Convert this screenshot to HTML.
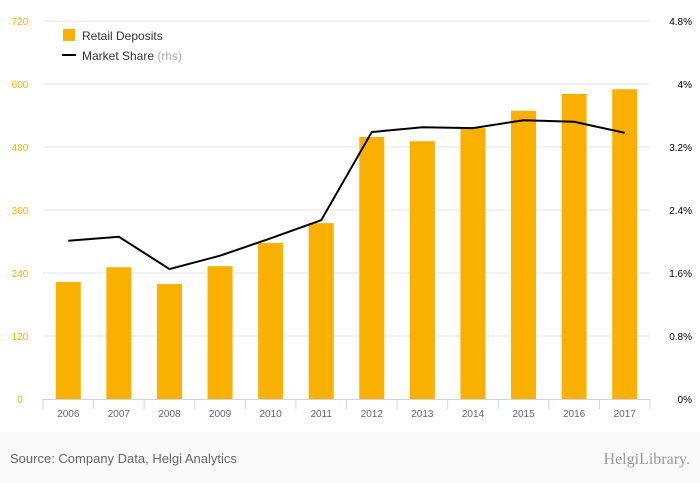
<!DOCTYPE html>
<html><head><meta charset="utf-8"><style>
body{margin:0;width:700px;height:483px;background:#fff;font-family:"Liberation Sans",sans-serif;overflow:hidden}
#footer{position:absolute;left:0;top:432px;width:700px;height:51px;background:#fafafa}
</style></head><body>
<svg id="chart" width="700" height="483" style="position:absolute;left:0;top:0">
<rect x="0" y="432" width="700" height="51" fill="#fafafa"/>
<g id="grid"></g><g id="bars"></g><g id="line"></g><g id="axes"></g>
<g>
<rect x="63" y="29" width="12" height="12" fill="#f9b000"/>
<text x="82" y="40" font-size="12" fill="#333">Retail Deposits</text>
<line x1="62" y1="55" x2="76" y2="55" stroke="#000" stroke-width="2"/>
<text x="82" y="60" font-size="12" fill="#333">Market Share <tspan fill="#aaa">(rhs)</tspan></text>
</g>
<text x="10" y="463" font-size="13" fill="#666">Source: Company Data, Helgi Analytics</text>
<text x="690" y="464" font-size="16" fill="#999" text-anchor="end" font-family="Liberation Serif,serif">HelgiLibrary.</text>
</svg>
<script>
const categories=["2006","2007","2008","2009","2010","2011","2012","2013","2014","2015","2016","2017"];
const deposits=[223,251,219,253,297,335,499,491,516,549,581,590];
const share=[2.01,2.06,1.65,1.82,2.04,2.27,3.39,3.45,3.44,3.54,3.52,3.38];
const leftTicks=[0,120,240,360,480,600,720];
const rightTicks=[0,0.8,1.6,2.4,3.2,4,4.8];
const rightLabels=["0%","0.8%","1.6%","2.4%","3.2%","4%","4.8%"];
const NS="http://www.w3.org/2000/svg";
const x0=43,x1=650,yTop=21,yBot=399;
const band=(x1-x0)/categories.length;
const xC=i=>x0+band*(i+0.5);
const yL=v=>yBot-(v/720)*(yBot-yTop);
const yR=v=>yBot-(v/4.8)*(yBot-yTop);
function mk(tag,attrs,parent){const e=document.createElementNS(NS,tag);for(const k in attrs)e.setAttribute(k,attrs[k]);document.getElementById(parent).appendChild(e);return e;}
leftTicks.forEach((t,i)=>{
 if(t>0){const g=mk('line',{x1:x0,x2:x1,y1:yL(t),y2:yL(t),stroke:'#e6e6e6'},'grid');
 
 }
 const l=mk('text',{x:20,y:yL(t)+4,'font-size':10,fill:'#f9b000','text-anchor':'middle'},'axes');l.textContent=t;
 
 
});
rightTicks.forEach((t,i)=>{
 const l=mk('text',{x:692,y:yR(t)+4,'font-size':10,fill:'#000','text-anchor':'end'},'axes');l.textContent=rightLabels[i];
 
 
});
deposits.forEach((v,i)=>{
 const b=mk('rect',{x:xC(i)-12.5,y:yL(v),width:25,height:yBot-yL(v),fill:'#f9b000'},'bars');
 
 
});
const p=mk('polyline',{points:share.map((v,i)=>xC(i)+','+yR(v)).join(' '),fill:'none',stroke:'#000','stroke-width':2},'line');


const ax=mk('line',{x1:x0,x2:x1,y1:yBot+0.5,y2:yBot+0.5,stroke:'#ccd6eb'},'axes');


for(let i=0;i<=categories.length;i++){
 const t=mk('line',{x1:x0+band*i,x2:x0+band*i,y1:yBot,y2:yBot+10,stroke:'#ccd6eb'},'axes');
 
 
}
categories.forEach((c,i)=>{
 const l=mk('text',{x:xC(i),y:417,'font-size':10,fill:'#666','text-anchor':'middle'},'axes');l.textContent=c;
 
 
});
</script>
</body></html>
